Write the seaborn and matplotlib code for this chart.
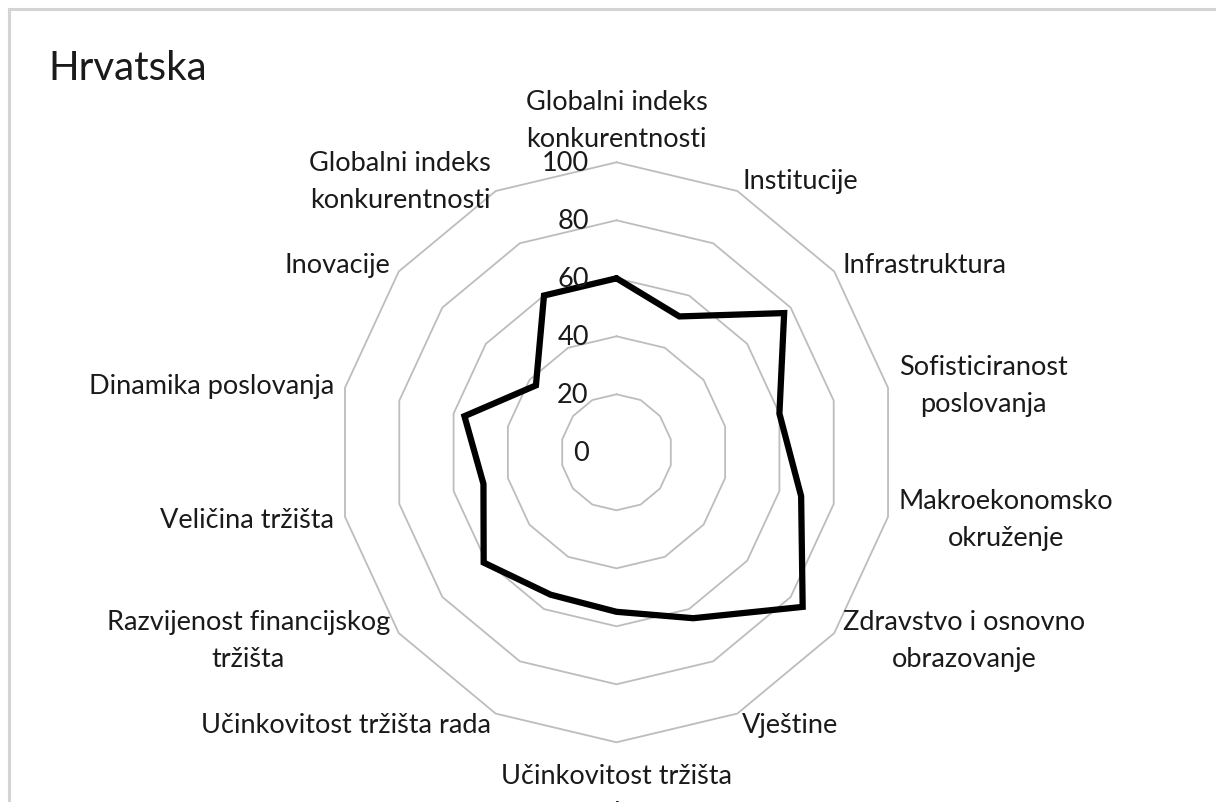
import numpy as np
import matplotlib
matplotlib.use("Agg")
import matplotlib.pyplot as plt
import seaborn as sns
from matplotlib.patches import Rectangle

# ---------------- data ----------------
categories = [
    "Globalni indeks\nkonkurentnosti",
    "Institucije",
    "Infrastruktura",
    "Sofisticiranost\nposlovanja",
    "Makroekonomsko\nokruženje",
    "Zdravstvo i osnovno\nobrazovanje",
    "Vještine",
    "Učinkovitost tržišta\nroba",
    "Učinkovitost tržišta rada",
    "Razvijenost financijskog\ntržišta",
    "Veličina tržišta",
    "Dinamika poslovanja",
    "Inovacije",
    "Globalni indeks\nkonkurentnosti",
]
values = [60, 52, 77, 60, 68, 85.5, 63.5, 55, 54.5, 61, 49, 56, 37, 60]
ring_levels = [20, 40, 60, 80, 100]
tick_values = [0, 20, 40, 60, 80, 100]
tick_labels = ["0", "20", "40", "60", "80", "100"]
title = "Hrvatska"

# ---------------- style ----------------
sns.set_theme(style="white")
plt.rcParams["font.family"] = ["Lato", "DejaVu Sans"]

W, H = 1216, 803
fig = plt.figure(figsize=(W / 100, H / 100), dpi=100)
fig.patch.set_facecolor("white")

# outer chart-area border (cropped at right / bottom)
fig.patches.append(Rectangle((9 / W, -0.05), 1.2, 1 - 10 / H + 0.05,
                             transform=fig.transFigure, fill=False,
                             edgecolor="#d4d4d4", linewidth=2.2, zorder=0))

cx, cy, rx, ry = 616.5, 453.3, 278.5, 290.0
ax = fig.add_axes([(cx - rx) / W, (H - cy - ry) / H, 2 * rx / W, 2 * ry / H],
                  projection="polar")
ax.set_aspect("auto")
ax.set_theta_zero_location("N")
ax.set_theta_direction(-1)
ax.set_ylim(0, 100)
ax.grid(False)
ax.spines["polar"].set_visible(False)
ax.set_xticks([])
ax.set_yticks([])
ax.patch.set_alpha(0)

n = len(categories)
theta = np.linspace(0, 2 * np.pi, n, endpoint=False)
theta_closed = np.append(theta, 2 * np.pi)

# polygon grid rings
for lvl in ring_levels:
    ax.plot(theta_closed, [lvl] * (n + 1), color="#bdbdbd", lw=1.3,
            zorder=1, clip_on=False)

# data series (closed polygon)
vals_closed = np.append(values, values[0])
sns.lineplot(x=theta_closed, y=vals_closed, ax=ax, sort=False,
             estimator=None, color="black", lw=4.5, zorder=3, clip_on=False)
ax.lines[-1].set_solid_joinstyle("miter")

# radial tick labels
for v, lab in zip(tick_values, tick_labels):
    ax.annotate(lab, xy=(0, v), xytext=(-20, 0), textcoords="offset points",
                ha="right", va="center", fontsize=19.5, color="#1a1a1a",
                annotation_clip=False, zorder=4)

# category labels
for t, lab in zip(theta, categories):
    s, c = np.sin(t), np.cos(t)
    r_lab = 104
    if s > 0.1:
        ha = "left"
    elif s < -0.1:
        ha = "right"
    else:
        ha = "center"
    if c > 0.95:
        va = "bottom"
    elif c < -0.95:
        va = "top"
        r_lab = 107
    else:
        va = "center"
    ax.text(t, r_lab, lab, ha=ha, va=va, multialignment="center",
            fontsize=19.5, color="#1a1a1a", linespacing=1.6, clip_on=False)

fig.text(48 / W, 1 - 80 / H, title, ha="left", va="baseline",
         fontsize=29, color="#1a1a1a")

fig.savefig("out.png", dpi=100, facecolor="white")
